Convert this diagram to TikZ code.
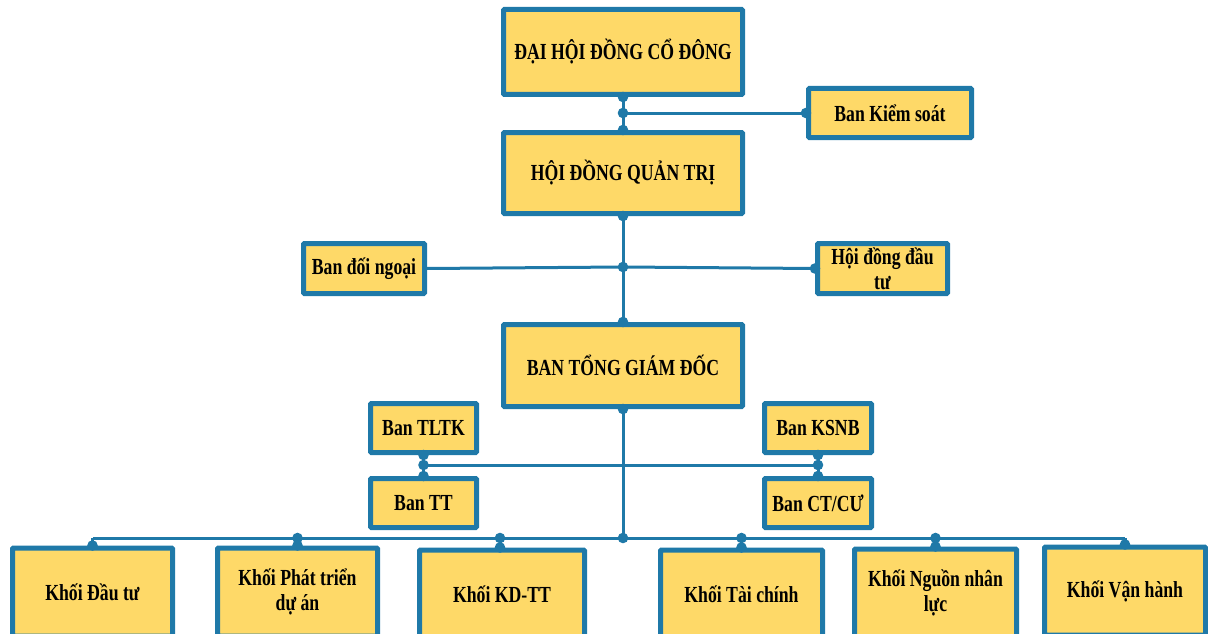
\documentclass[tikz,border=0pt]{standalone}
\usepackage{fontspec}
\newfontfamily\boxfont{Liberation Serif}[FakeStretch=0.77]
\definecolor{bblue}{RGB}{31,121,168}
\definecolor{byellow}{RGB}{254,217,104}
\newcommand{\jd}[1]{\fill[bblue] (#1) circle (5.3pt);}
\tikzset{
  box/.style={draw=bblue, fill=byellow, line width=5pt, rounded corners=1pt,
    align=center, inner sep=2pt, font=\boxfont\bfseries\fontsize{23}{25}\selectfont},
  conn/.style={draw=bblue, line width=3pt}
}
\begin{document}
\begin{tikzpicture}[x=1pt,y=-1pt]
\useasboundingbox (0,0) rectangle (1208,634);
\clip (0,0) rectangle (1208,634);
% boxes
\node[box, minimum width=239pt, minimum height=85pt] (dh) at (623,52) {ĐẠI HỘI ĐỒNG CỔ ĐÔNG};
\node[box, minimum width=239pt, minimum height=81pt] (hq) at (623,173) {HỘI ĐỒNG QUẢN TRỊ};
\node[box, minimum width=163pt, minimum height=49pt] (ks) at (890,113) {Ban Kiểm soát};
\node[box, minimum width=121pt, minimum height=50pt] (dn) at (364,268.5) {Ban đối ngoại};
\node[box, minimum width=130pt, minimum height=50pt] (hdt) at (882.5,268.5) {Hội đồng đầu\\tư};
\node[box, minimum width=239pt, minimum height=82pt] (tgd) at (623,365.5) {BAN TỔNG GIÁM ĐỐC};
\node[box, minimum width=106pt, minimum height=49pt] (tltk) at (423.5,428) {Ban TLTK};
\node[box, minimum width=106pt, minimum height=49pt] (tt) at (423.5,503) {Ban TT};
\node[box, minimum width=107pt, minimum height=49pt] (ksnb) at (818,428) {Ban KSNB};
\node[box, minimum width=107pt, minimum height=49pt] (ct) at (818,503) {Ban CT/CƯ};
\node[box, minimum width=160pt, minimum height=88pt] (b1) at (92.5,592) {Khối Đầu tư};
\node[box, minimum width=160pt, minimum height=88pt] (b2) at (297.5,592) {Khối Phát triển\\dự án};
\node[box, minimum width=165pt, minimum height=88pt] (b3) at (502,594) {Khối KD-TT};
\node[box, minimum width=162pt, minimum height=88pt] (b4) at (741.5,594) {Khối Tài chính};
\node[box, minimum width=162pt, minimum height=88pt] (b5) at (935.5,593) {Khối Nguồn nhân\\lực};
\node[box, minimum width=161pt, minimum height=88pt] (b6) at (1125,591) {Khối Vận hành};
% junction coordinates
\coordinate (j1) at (623,113);
\coordinate (j2) at (623,267);
\coordinate (jl) at (423.5,465);
\coordinate (jr) at (818,465);
\coordinate (jb) at (623,538);
\coordinate (q1) at (92.5,538);
\coordinate (q2) at (297.5,538);
\coordinate (q3) at (500,538);
\coordinate (q4) at (741.5,538);
\coordinate (q5) at (935.5,538);
\coordinate (q6) at (1125,538);
% connectors
\path[conn] (dh.south) -- (hq.north);
\path[conn] (j1) -- (ks.west);
\path[conn] (hq.south) -- (tgd.north);
\path[conn] (dn.east) -- (j2) -- (hdt.west);
\path[conn] (tgd.south) -- (jb);
\path[conn] (tltk.south) -- (tt.north);
\path[conn] (ksnb.south) -- (ct.north);
\path[conn] (jl) -- (jr);
\path[conn] (q1) -- (q6);
\path[conn] (q1) -- (b1.north);
\path[conn] (q2) -- (b2.north);
\path[conn] (q3) -- (q3 |- b3.north);
\path[conn] (q4) -- (b4.north);
\path[conn] (q5) -- (b5.north);
\path[conn] (q6) -- (b6.north);
% dots
\jd{dh.south} \jd{hq.north} \jd{j1} \jd{ks.west}
\jd{hq.south} \jd{tgd.north} \jd{j2} \jd{hdt.west}
\jd{tgd.south} \jd{jb}
\jd{tltk.south} \jd{jl} \jd{tt.north}
\jd{ksnb.south} \jd{jr} \jd{ct.north}
\jd{b1.north} \jd{q2} \jd{b2.north} \jd{q3} \jd{q3 |- b3.north}
\jd{q4} \jd{b4.north} \jd{q5} \jd{b5.north} \jd{b6.north}
\end{tikzpicture}
\end{document}
